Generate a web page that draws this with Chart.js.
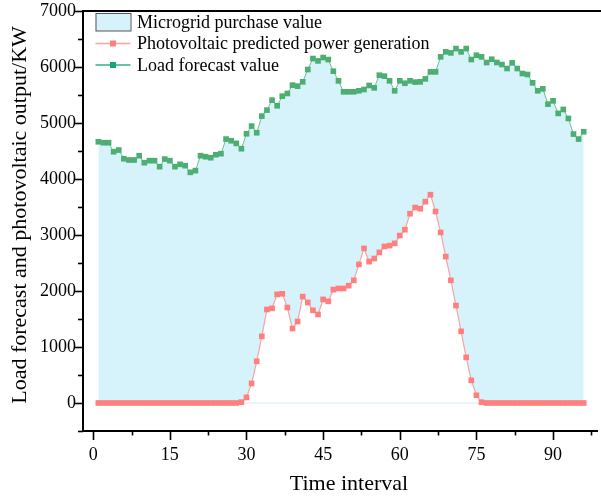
<!DOCTYPE html>
<html>
<head>
<meta charset="utf-8">
<script src="https://cdn.jsdelivr.net/npm/chart.js@4.4.1/dist/chart.umd.min.js"></script>
<style>
html, body { margin: 0; padding: 0; background: #fff; }
#wrap { width: 601px; height: 500px; }
</style>
</head>
<body>
<div id="wrap"><canvas id="chart" width="601" height="500"></canvas></div>
<script>
// time intervals (15 min steps over one day)
var intervals = [1, 2, 3, 4, 5, 6, 7, 8, 9, 10, 11, 12, 13, 14, 15, 16, 17, 18, 19, 20, 21, 22, 23, 24,
  25, 26, 27, 28, 29, 30, 31, 32, 33, 34, 35, 36, 37, 38, 39, 40, 41, 42, 43, 44, 45, 46, 47, 48,
  49, 50, 51, 52, 53, 54, 55, 56, 57, 58, 59, 60, 61, 62, 63, 64, 65, 66, 67, 68, 69, 70, 71, 72,
  73, 74, 75, 76, 77, 78, 79, 80, 81, 82, 83, 84, 85, 86, 87, 88, 89, 90, 91, 92, 93, 94, 95, 96];

var loadForecast = [4665, 4648, 4648, 4487, 4517, 4362, 4339, 4339, 4416, 4291, 4327, 4327,
  4220, 4356, 4327, 4220, 4262, 4238, 4119, 4149, 4416, 4398, 4380, 4434,
  4452, 4713, 4683, 4636, 4541, 4808, 4945, 4826, 5123, 5230, 5408, 5307,
  5479, 5527, 5676, 5658, 5735, 5955, 6151, 6109, 6169, 6133, 5925, 5753,
  5557, 5557, 5557, 5575, 5598, 5670, 5628, 5854, 5836, 5753, 5575, 5753,
  5710, 5753, 5730, 5735, 5788, 5913, 5913, 6181, 6270, 6252, 6329, 6270,
  6329, 6133, 6210, 6181, 6080, 6139, 6080, 6044, 5973, 6074, 5973, 5884,
  5866, 5717, 5575, 5610, 5337, 5396, 5171, 5242, 5081, 4802, 4713, 4844];

var pvForecast = [0, 0, 0, 0, 0, 0, 0, 0, 0, 0, 0, 0,
  0, 0, 0, 0, 0, 0, 0, 0, 0, 0, 0, 0,
  0, 0, 0, 0, 15, 100, 350, 745, 1190, 1670, 1690, 1940,
  1950, 1705, 1330, 1455, 1900, 1795, 1655, 1580, 1850, 1815, 2025, 2045,
  2045, 2095, 2190, 2475, 2760, 2525, 2580, 2690, 2795, 2810, 2850, 2990,
  3095, 3380, 3490, 3470, 3595, 3720, 3420, 3045, 2615, 2190, 1740, 1280,
  815, 405, 138, 15, 0, 0, 0, 0, 0, 0, 0, 0,
  0, 0, 0, 0, 0, 0, 0, 0, 0, 0, 0, 0];

var xTickValues = [0, 7.5, 15, 22.5, 30, 37.5, 45, 52.5, 60, 67.5, 75, 82.5, 90, 97.5];
var yTickValues = [-500, 0, 500, 1000, 1500, 2000, 2500, 3000, 3500, 4000, 4500, 5000, 5500, 6000, 6500, 7000];

var seriesNames = ["Microgrid purchase value", "Photovoltaic predicted power generation", "Load forecast value"];
var xTitle = "Time interval";
var yTitle = "Load forecast and photovoltaic output/KW";

var serif = '"Liberation Serif", "Times New Roman", serif';
var areaColor = "rgb(214, 243, 252)";
var loadLine = "#6dbf90", loadMark = "#4dae74";
var pvLine = "#f7a3a3", pvMark = "#ff7f7f";

function toPoints(xs, ys) {
  return xs.map(function (x, i) { return { x: x, y: ys[i] }; });
}

// ticks (major + minor), top frame line, axis titles and the faint zero line
var axisDecor = {
  id: "axisDecor",
  beforeDatasetsDraw: function (chart) {
    var ctx = chart.ctx, xs = chart.scales.x, ys = chart.scales.y;
    var y0 = ys.getPixelForValue(0);
    ctx.save();
    ctx.strokeStyle = "#cdeef9";
    ctx.lineWidth = 1;
    ctx.beginPath();
    ctx.moveTo(xs.getPixelForValue(intervals[0]), y0);
    ctx.lineTo(xs.getPixelForValue(intervals[intervals.length - 1]), y0);
    ctx.stroke();
    ctx.restore();
  },
  afterDraw: function (chart) {
    var ctx = chart.ctx, a = chart.chartArea, xs = chart.scales.x, ys = chart.scales.y;
    ctx.save();
    ctx.strokeStyle = "#000";
    ctx.lineWidth = 2;
    ctx.beginPath();
    ctx.moveTo(a.left - 1, a.top);
    ctx.lineTo(chart.width, a.top);
    ctx.stroke();

    ctx.lineWidth = 1.6;
    xTickValues.forEach(function (v) {
      var px = Math.round(xs.getPixelForValue(v)) + 0.5;
      var len = v % 15 === 0 ? 9 : 4.5;
      ctx.beginPath();
      ctx.moveTo(px, a.bottom);
      ctx.lineTo(px, a.bottom + len);
      ctx.stroke();
    });
    yTickValues.forEach(function (v) {
      var py = Math.round(ys.getPixelForValue(v)) + 0.5;
      var len = v % 1000 === 0 ? 9 : 5;
      ctx.beginPath();
      ctx.moveTo(a.left, py);
      ctx.lineTo(a.left - len, py);
      ctx.stroke();
    });

    // axis titles
    ctx.fillStyle = "#000";
    ctx.font = "22px " + serif;
    ctx.textAlign = "center";
    ctx.textBaseline = "alphabetic";
    ctx.fillText(xTitle, 349, 490);
    ctx.translate(25.5, 215);
    ctx.rotate(-Math.PI / 2);
    ctx.fillText(yTitle, 0, 0);
    ctx.restore();
  }
};

// legend drawn inside the plot, top left
var insideLegend = {
  id: "insideLegend",
  afterDraw: function (chart) {
    var ctx = chart.ctx, a = chart.chartArea;
    var x0 = a.left + 12.5, x1 = x0 + 35, tx = x1 + 6.5;
    var rows = [a.top + 11, a.top + 32.5, a.top + 54];
    ctx.save();
    ctx.font = "18px " + serif;
    ctx.textBaseline = "middle";

    ctx.fillStyle = areaColor;
    ctx.fillRect(x0, rows[0] - 8.5, 35, 17.5);
    ctx.strokeStyle = "#555";
    ctx.lineWidth = 1;
    ctx.strokeRect(x0 + 0.5, rows[0] - 8.5, 35, 17.5);

    var lines = [[pvLine, pvMark], ["#3aae84", "#16a578"]];
    for (var k = 0; k < 2; k++) {
      var y = rows[k + 1];
      ctx.strokeStyle = lines[k][0];
      ctx.lineWidth = 1.3;
      ctx.beginPath();
      ctx.moveTo(x0, y);
      ctx.lineTo(x1, y);
      ctx.stroke();
      ctx.fillStyle = lines[k][1];
      ctx.fillRect((x0 + x1) / 2 - 3, y - 3, 6, 6);
    }

    ctx.fillStyle = "#000";
    for (var r = 0; r < 3; r++) {
      ctx.fillText(seriesNames[r], tx, rows[r] + 1);
    }
    ctx.restore();
  }
};

new Chart(document.getElementById("chart"), {
  type: "line",
  data: {
    datasets: [{
      label: seriesNames[2],
      data: toPoints(intervals, loadForecast),
      borderColor: loadLine,
      borderWidth: 1,
      backgroundColor: areaColor,
      fill: { target: 1 },
      pointStyle: "rect",
      pointRadius: 4,
      pointBorderWidth: 0,
      pointBackgroundColor: loadMark,
      tension: 0
    }, {
      label: seriesNames[1],
      data: toPoints(intervals, pvForecast),
      borderColor: pvLine,
      borderWidth: 1.2,
      fill: false,
      pointStyle: "rect",
      pointRadius: 4,
      pointBorderWidth: 0,
      pointBackgroundColor: pvMark,
      tension: 0
    }]
  },
  options: {
    responsive: false,
    animation: false,
    layout: { padding: { top: 11, left: 0, right: 0, bottom: 0 } },
    plugins: {
      legend: { display: false },
      tooltip: { enabled: false },
      filler: { drawTime: "beforeDatasetsDraw" }
    },
    scales: {
      x: {
        type: "linear",
        min: -2,
        max: 98.6,
        afterBuildTicks: function (s) { s.ticks = xTickValues.map(function (v) { return { value: v }; }); },
        afterFit: function (s) { s.height = 69; },
        grid: { display: true, drawOnChartArea: false, drawTicks: true, tickLength: 9, color: "rgba(0,0,0,0)" },
        border: { display: true, color: "#000", width: 2 },
        ticks: {
          color: "#000",
          padding: 4,
          maxRotation: 0,
          autoSkip: false,
          font: { family: serif, size: 18 },
          callback: function (v) { return v % 15 === 0 ? String(v) : ""; }
        },
        title: { display: false }
      },
      y: {
        min: -500,
        max: 7000,
        afterBuildTicks: function (s) { s.ticks = yTickValues.map(function (v) { return { value: v }; }); },
        afterFit: function (s) { s.width = 83; },
        grid: { display: true, drawOnChartArea: false, drawTicks: true, tickLength: 7, color: "rgba(0,0,0,0)" },
        border: { display: true, color: "#000", width: 2 },
        ticks: {
          color: "#000",
          padding: 0,
          autoSkip: false,
          font: { family: serif, size: 18 },
          callback: function (v) { return (v >= 0 && v % 1000 === 0) ? String(v) : ""; }
        },
        title: { display: false }
      }
    }
  },
  plugins: [axisDecor, insideLegend]
});
</script>
</body>
</html>
